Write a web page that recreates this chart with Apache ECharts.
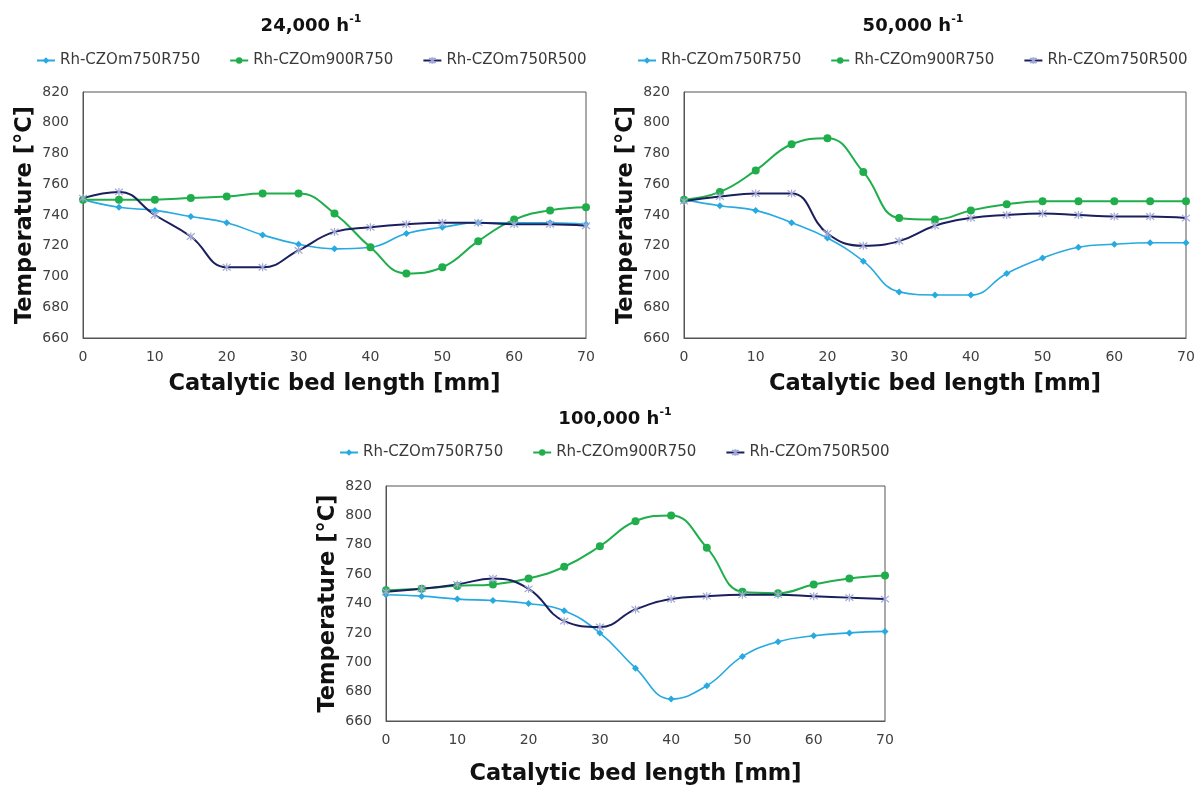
<!DOCTYPE html>
<html>
<head>
<meta charset="utf-8">
<script src="https://cdn.jsdelivr.net/npm/echarts@6/dist/echarts.min.js"></script>
<style>
  html, body { margin: 0; padding: 0; background: #fff; }
  #main { width: 1196px; height: 789px; }
</style>
</head>
<body>
<div id="main"></div>
<script>
// bed positions [mm]
const lengths = [0, 5, 10, 15, 20, 25, 30, 35, 40, 45, 50, 55, 60, 65, 70];
const seriesNames = ['Rh-CZOm750R750', 'Rh-CZOm900R750', 'Rh-CZOm750R500'];
const panelTitles = ['24,000 h', '50,000 h', '100,000 h'];

// 24,000 h-1
const t24_m750r750 = [750, 745, 743, 739, 735, 727, 721, 718, 719, 728, 732, 735, 735, 735, 734];
const t24_m900r750 = [750, 750, 750, 751, 752, 754, 754, 741, 719, 702, 706, 723, 737, 743, 745];
const t24_m750r500 = [751, 755, 740, 726, 706, 706, 717, 729, 732, 734, 735, 735, 734, 734, 733];

// 50,000 h-1
const t50_m750r750 = [750, 746, 743, 735, 725, 710, 690, 688, 688, 702, 712, 719, 721, 722, 722];
const t50_m900r750 = [750, 755, 769, 786, 790, 768, 738, 737, 743, 747, 749, 749, 749, 749, 749];
const t50_m750r500 = [749, 752, 754, 754, 728, 720, 723, 733, 738, 740, 741, 740, 739, 739, 738];

// 100,000 h-1
const t100_m750r750 = [746, 745, 743, 742, 740, 735, 720, 696, 675, 684, 704, 714, 718, 720, 721];
const t100_m900r750 = [749, 750, 752, 753, 757, 765, 779, 796, 800, 778, 748, 747, 753, 757, 759];
const t100_m750r500 = [748, 750, 753, 757, 750, 728, 724, 736, 743, 745, 746, 746, 745, 744, 743];

const panelData = [
  [t24_m750r750, t24_m900r750, t24_m750r500],
  [t50_m750r750, t50_m900r750, t50_m750r500],
  [t100_m750r750, t100_m900r750, t100_m750r500]
];

// layout of the three panels
const panels = [
  { grid: { left: 83, top: 92, width: 503, height: 246 }, titleX: 306, titleY: 9, legendX: 36, legendY: 53, xNameGap: 35 },
  { grid: { left: 684, top: 92, width: 502, height: 246 }, titleX: 908, titleY: 9, legendX: 637, legendY: 53, xNameGap: 35 },
  { grid: { left: 386, top: 486, width: 499, height: 235 }, titleX: 610, titleY: 402, legendX: 339, legendY: 445, xNameGap: 42 }
];

const asterisk = 'path://M5,0L5,10M1,1L9,9M9,1L1,9';
const styles = [
  { color: '#27a9e1', symbol: 'diamond', symbolSize: 7, width: 1.6 },
  { color: '#1fae4b', symbol: 'circle', symbolSize: 8, width: 2 },
  { color: '#1b1f5e', symbol: asterisk, symbolSize: 8, width: 2, markColor: '#a3a9d6' }
];

const font = 'DejaVu Sans';

const option = {
  backgroundColor: '#fff',
  animation: false,
  title: panels.map((p, i) => ({
    text: '{a|' + panelTitles[i] + '}{b|-1}',
    left: p.titleX,
    top: p.titleY,
    textAlign: 'center',
    textStyle: {
      rich: {
        a: { fontFamily: font, fontWeight: 'bold', fontSize: 18, color: '#111', lineHeight: 24 },
        b: { fontFamily: font, fontWeight: 'bold', fontSize: 11, color: '#111', verticalAlign: 'top', lineHeight: 14 }
      }
    }
  })),
  legend: panels.map((p) => ({
    data: seriesNames,
    left: p.legendX,
    top: p.legendY,
    width: 600,
    padding: 0,
    itemWidth: 18,
    itemHeight: 8,
    itemGap: 29,
    textStyle: { fontFamily: font, fontSize: 15, color: '#3a3a3a' }
  })),
  grid: panels.map((p) => Object.assign({
    show: true,
    borderColor: '#555',
    borderWidth: 1,
    backgroundColor: 'transparent',
    containLabel: false,
    outerBoundsMode: 'none'
  }, p.grid)),
  xAxis: panels.map((p, i) => ({
    type: 'value',
    gridIndex: i,
    min: 0,
    max: 70,
    interval: 10,
    name: 'Catalytic bed length [mm]',
    nameLocation: 'middle',
    nameGap: p.xNameGap,
    nameTextStyle: { fontFamily: font, fontWeight: 'bold', fontSize: 22.5, color: '#111' },
    axisLine: { show: true, lineStyle: { color: '#555', width: 1 } },
    axisTick: { show: false },
    splitLine: { show: false },
    axisLabel: { fontFamily: font, fontSize: 14, color: '#404040', margin: 12 }
  })),
  yAxis: panels.map((p, i) => ({
    type: 'value',
    gridIndex: i,
    min: 660,
    max: 820,
    interval: 20,
    name: 'Temperature [°C]',
    nameLocation: 'middle',
    nameGap: 46,
    nameTextStyle: { fontFamily: font, fontWeight: 'bold', fontSize: 22.5, color: '#111' },
    axisLine: { show: true, lineStyle: { color: '#555', width: 1 } },
    axisTick: { show: false },
    splitLine: { show: false },
    axisLabel: { fontFamily: font, fontSize: 14, color: '#404040', margin: 14 }
  })),
  series: []
};

panelData.forEach((sets, i) => {
  sets.forEach((vals, k) => {
    const s = styles[k];
    const mark = s.markColor || s.color;
    option.series.push({
      name: seriesNames[k],
      type: 'line',
      xAxisIndex: i,
      yAxisIndex: i,
      data: lengths.map((x, j) => [x, vals[j]]),
      smooth: 0.45,
      symbol: s.symbol,
      symbolSize: s.symbolSize,
      showAllSymbol: true,
      lineStyle: { color: s.color, width: s.width },
      itemStyle: { color: mark, borderColor: mark, borderWidth: s.symbol === asterisk ? 1.2 : 0 },
      emphasis: { disabled: true }
    });
  });
});

const chart = echarts.init(document.getElementById('main'), null, { renderer: 'canvas' });
chart.setOption(option);
</script>
</body>
</html>
